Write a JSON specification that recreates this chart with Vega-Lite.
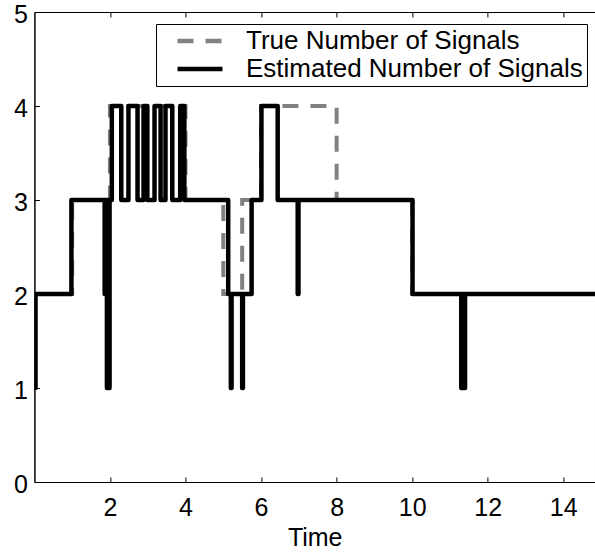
{
  "$schema": "https://vega.github.io/schema/vega-lite/v6.json",
  "width": 560.6,
  "height": 470,
  "autosize": {"type": "none"},
  "padding": {"left": 34.4, "top": 12, "right": 0, "bottom": 73},
  "background": "white",
  "config": {
    "view": {"stroke": "black", "strokeWidth": 1},
    "font": "Liberation Sans",
    "axis": {
      "grid": false,
      "domainColor": "black",
      "domainWidth": 1,
      "tickColor": "black",
      "tickWidth": 1,
      "tickSize": -5,
      "labelColor": "black",
      "labelFont": "Liberation Sans",
      "labelFontSize": 25,
      "titleFont": "Liberation Sans",
      "titleFontSize": 25,
      "titleFontWeight": "normal",
      "titleColor": "black"
    }
  },
  "datasets": {
    "signals": [
      {"series": "True Number of Signals", "t": 0, "n": 2},
      {"series": "True Number of Signals", "t": 1, "n": 3},
      {"series": "True Number of Signals", "t": 2, "n": 4},
      {"series": "True Number of Signals", "t": 4, "n": 3},
      {"series": "True Number of Signals", "t": 5, "n": 2},
      {"series": "True Number of Signals", "t": 5.5, "n": 3},
      {"series": "True Number of Signals", "t": 6, "n": 4},
      {"series": "True Number of Signals", "t": 8, "n": 3},
      {"series": "True Number of Signals", "t": 10, "n": 2},
      {"series": "True Number of Signals", "t": 15, "n": 2},
      {"series": "Estimated Number of Signals", "t": 0, "n": 1},
      {"series": "Estimated Number of Signals", "t": 0.03, "n": 2},
      {"series": "Estimated Number of Signals", "t": 0.98, "n": 3},
      {"series": "Estimated Number of Signals", "t": 1.86, "n": 2},
      {"series": "Estimated Number of Signals", "t": 1.88, "n": 3},
      {"series": "Estimated Number of Signals", "t": 1.92, "n": 1},
      {"series": "Estimated Number of Signals", "t": 1.94, "n": 3},
      {"series": "Estimated Number of Signals", "t": 1.97, "n": 1},
      {"series": "Estimated Number of Signals", "t": 1.99, "n": 3},
      {"series": "Estimated Number of Signals", "t": 2.05, "n": 4},
      {"series": "Estimated Number of Signals", "t": 2.3, "n": 3},
      {"series": "Estimated Number of Signals", "t": 2.49, "n": 4},
      {"series": "Estimated Number of Signals", "t": 2.73, "n": 3},
      {"series": "Estimated Number of Signals", "t": 2.89, "n": 4},
      {"series": "Estimated Number of Signals", "t": 2.99, "n": 3},
      {"series": "Estimated Number of Signals", "t": 3.18, "n": 4},
      {"series": "Estimated Number of Signals", "t": 3.34, "n": 3},
      {"series": "Estimated Number of Signals", "t": 3.47, "n": 4},
      {"series": "Estimated Number of Signals", "t": 3.65, "n": 3},
      {"series": "Estimated Number of Signals", "t": 3.86, "n": 4},
      {"series": "Estimated Number of Signals", "t": 3.97, "n": 3},
      {"series": "Estimated Number of Signals", "t": 5.13, "n": 2},
      {"series": "Estimated Number of Signals", "t": 5.2, "n": 1},
      {"series": "Estimated Number of Signals", "t": 5.22, "n": 2},
      {"series": "Estimated Number of Signals", "t": 5.5, "n": 1},
      {"series": "Estimated Number of Signals", "t": 5.52, "n": 2},
      {"series": "Estimated Number of Signals", "t": 5.75, "n": 3},
      {"series": "Estimated Number of Signals", "t": 6.01, "n": 4},
      {"series": "Estimated Number of Signals", "t": 6.44, "n": 3},
      {"series": "Estimated Number of Signals", "t": 6.97, "n": 2},
      {"series": "Estimated Number of Signals", "t": 6.99, "n": 3},
      {"series": "Estimated Number of Signals", "t": 10.01, "n": 2},
      {"series": "Estimated Number of Signals", "t": 11.3, "n": 1},
      {"series": "Estimated Number of Signals", "t": 11.33, "n": 2},
      {"series": "Estimated Number of Signals", "t": 11.37, "n": 1},
      {"series": "Estimated Number of Signals", "t": 11.4, "n": 2},
      {"series": "Estimated Number of Signals", "t": 15, "n": 2}
    ]
  },
  "data": {"name": "signals"},
  "resolve": {"axis": {"x": "independent"}},
  "layer": [
    {
      "transform": [{"filter": "datum.series === 'True Number of Signals'"}],
      "mark": {"type": "line", "interpolate": "step-after", "clip": true, "strokeWidth": 4, "strokeCap": "butt"},
      "encoding": {
        "x": {"field": "t", "type": "quantitative", "scale": {"domain": [0, 14.84], "nice": false, "zero": false},
              "axis": {"values": [2, 4, 6, 8, 10, 12, 14], "format": "d", "title": "Time", "labelPadding": 18, "titleY": 63, "titleBaseline": "alphabetic"}},
        "y": {"field": "n", "type": "quantitative", "scale": {"domain": [0, 5], "nice": false},
              "axis": {"values": [0, 1, 2, 3, 4, 5], "format": "d", "title": null, "labelPadding": 12, "labelOffset": 2}},
        "color": {"field": "series", "type": "nominal",
                  "scale": {"domain": ["True Number of Signals", "Estimated Number of Signals"], "range": ["#808080", "#000000"]},
                  "legend": {"orient": "none", "legendX": 121.6, "legendY": 12, "title": null,
                             "strokeColor": "black", "fillColor": "white", "padding": 4,
                             "labelFont": "Liberation Sans", "labelFontSize": 26, "labelColor": "black", "labelLimit": 0,
                             "symbolType": "M-3,0H3", "symbolSize": 225, "symbolStrokeWidth": 4.5,
                             "symbolOffset": 27, "labelOffset": 33, "rowPadding": 2}},
        "strokeDash": {"field": "series", "type": "nominal",
                       "scale": {"domain": ["True Number of Signals", "Estimated Number of Signals"], "range": [[16, 12], [1, 0]]},
                       "legend": {"orient": "none", "legendX": 121.6, "legendY": 12, "title": null,
                             "strokeColor": "black", "fillColor": "white", "padding": 4,
                             "labelFont": "Liberation Sans", "labelFontSize": 26, "labelColor": "black", "labelLimit": 0,
                             "symbolType": "M-3,0H3", "symbolSize": 225, "symbolStrokeWidth": 4.5,
                             "symbolOffset": 27, "labelOffset": 33, "rowPadding": 2}}
      }
    },
    {
      "transform": [{"filter": "datum.series === 'Estimated Number of Signals'"}],
      "mark": {"type": "line", "interpolate": "step-after", "clip": true, "strokeWidth": 4.5, "strokeCap": "round", "strokeJoin": "round"},
      "encoding": {
        "x": {"field": "t", "type": "quantitative", "axis": null},
        "y": {"field": "n", "type": "quantitative"},
        "color": {"field": "series", "type": "nominal"},
        "strokeDash": {"field": "series", "type": "nominal"}
      }
    },
    {
      "mark": {"type": "point", "opacity": 0},
      "encoding": {
        "x": {"field": "t", "type": "quantitative",
              "axis": {"orient": "top", "values": [2, 4, 6, 8, 10, 12, 14], "labels": false, "title": null}}
      }
    }
  ]
}
